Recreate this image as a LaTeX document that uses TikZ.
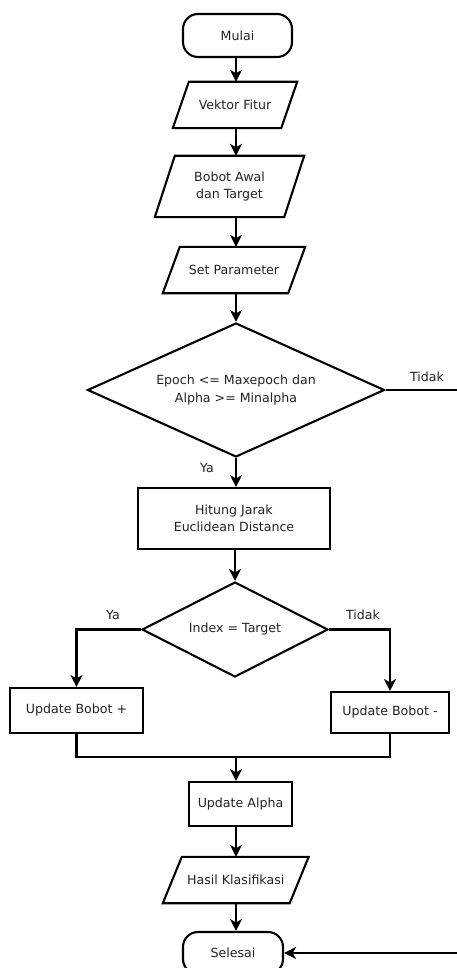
\documentclass[tikz,border=0pt]{standalone}
\usepackage{fontspec}
\setmainfont{DejaVu Sans}
\usetikzlibrary{shapes.geometric,arrows.meta}
\definecolor{txt}{RGB}{35,35,35}
\newcommand{\drawpar}[2]{\draw[ln] ([xshift=#2]#1.north west) -- ([xshift=#2]#1.north east) -- ([xshift=-#2]#1.south east) -- ([xshift=-#2]#1.south west) -- cycle;}
\tikzset{
  ln/.style={line width=2.1pt, draw=black, line join=miter},
  arr/.style={ln, -{Stealth[length=12pt,width=12pt,inset=3.5pt]}},
  box/.style={draw, line width=2.1pt, rectangle, align=center, inner sep=0pt, text=txt},
  term/.style={box, rounded corners=15pt},
  io/.style={rectangle, align=center, inner sep=0pt, text=txt},
  dec/.style={diamond, draw, line width=2.1pt, align=center, inner sep=0pt, text=txt},
  lbl/.style={text=txt, inner sep=0pt},
  every node/.append style={font=\fontsize{12.6}{17.5}\selectfont}
}
\begin{document}
\begin{tikzpicture}[x=1pt,y=-1pt]
\useasboundingbox (0,0) rectangle (456,968);
\fill[white] (0,0) rectangle (456,968);
\coordinate (ax) at (236,0);
\coordinate (rt) at (458,0);
\coordinate (mg) at (236,757);

\node[term, minimum width=109pt, minimum height=43pt] (mulai) at (237.5,35.5) {Mulai};
\node[io, minimum width=108pt, minimum height=46pt] (vf) at (235,105) {Vektor Fitur};
\node[io, minimum width=129pt, minimum height=61pt] (bobot) at (229.5,186.5) {Bobot Awal\\dan Target};
\node[io, minimum width=125pt, minimum height=46pt] (set) at (234,270) {Set Parameter};
\node[dec, shape aspect=2.2, minimum width=297pt, minimum height=134pt] (d1) at (236,390) {Epoch <= Maxepoch dan\\Alpha >= Minalpha};
\node[box, minimum width=192pt, minimum height=61pt] (hit) at (234,518.5) {Hitung Jarak\\Euclidean Distance};
\node[dec, shape aspect=1.95, minimum width=186pt, minimum height=95pt] (d2) at (235,629.5) {Index = Target};
\node[box, minimum width=133pt, minimum height=45pt] (ubp) at (76.5,710.5) {Update Bobot +};
\node[box, minimum width=118pt, minimum height=41pt] (ubm) at (390,712.5) {Update Bobot -};
\node[box, minimum width=103pt, minimum height=44pt] (ua) at (240.5,804) {Update Alpha};
\node[io, minimum width=126.5pt, minimum height=46pt] (hasil) at (235.75,880) {Hasil Klasifikasi};
\node[term, minimum width=100pt, minimum height=42pt] (sel) at (233,953) {Selesai};

\drawpar{vf}{8}
\drawpar{bobot}{10}
\drawpar{set}{8.5}
\drawpar{hasil}{9.5}

\node[lbl] (ya1) at (207,468) {Ya};
\node[lbl] (td1) at (427,377) {Tidak};
\node[lbl] (ya2) at (113,615) {Ya};
\node[lbl] (td2) at (363,615) {Tidak};

\draw[arr] (mulai.south -| ax) -- (vf.north -| ax);
\draw[arr] (vf.south -| ax) -- (bobot.north -| ax);
\draw[arr] (bobot.south -| ax) -- (set.north -| ax);
\draw[arr] (set.south -| ax) -- (d1.north);
\draw[arr] (d1.south) -- (hit.north -| d1.south);
\draw[arr] (hit.south -| d2.north) -- (d2.north);
\draw[arr] (d2.west) -| (ubp.north);
\draw[arr] (d2.east) -| (ubm.north);
\draw[ln] (ubp.south) |- (ubm.south |- mg) -- (ubm.south);
\draw[arr] (mg) -- (ua.north -| mg);
\draw[arr] (ua.south -| ax) -- (hasil.north -| ax);
\draw[arr] (hasil.south -| ax) -- (sel.north -| ax);
\draw[arr] (d1.east) -- (d1.east -| rt) -- (sel.east -| rt) -- (sel.east);
\end{tikzpicture}
\end{document}
